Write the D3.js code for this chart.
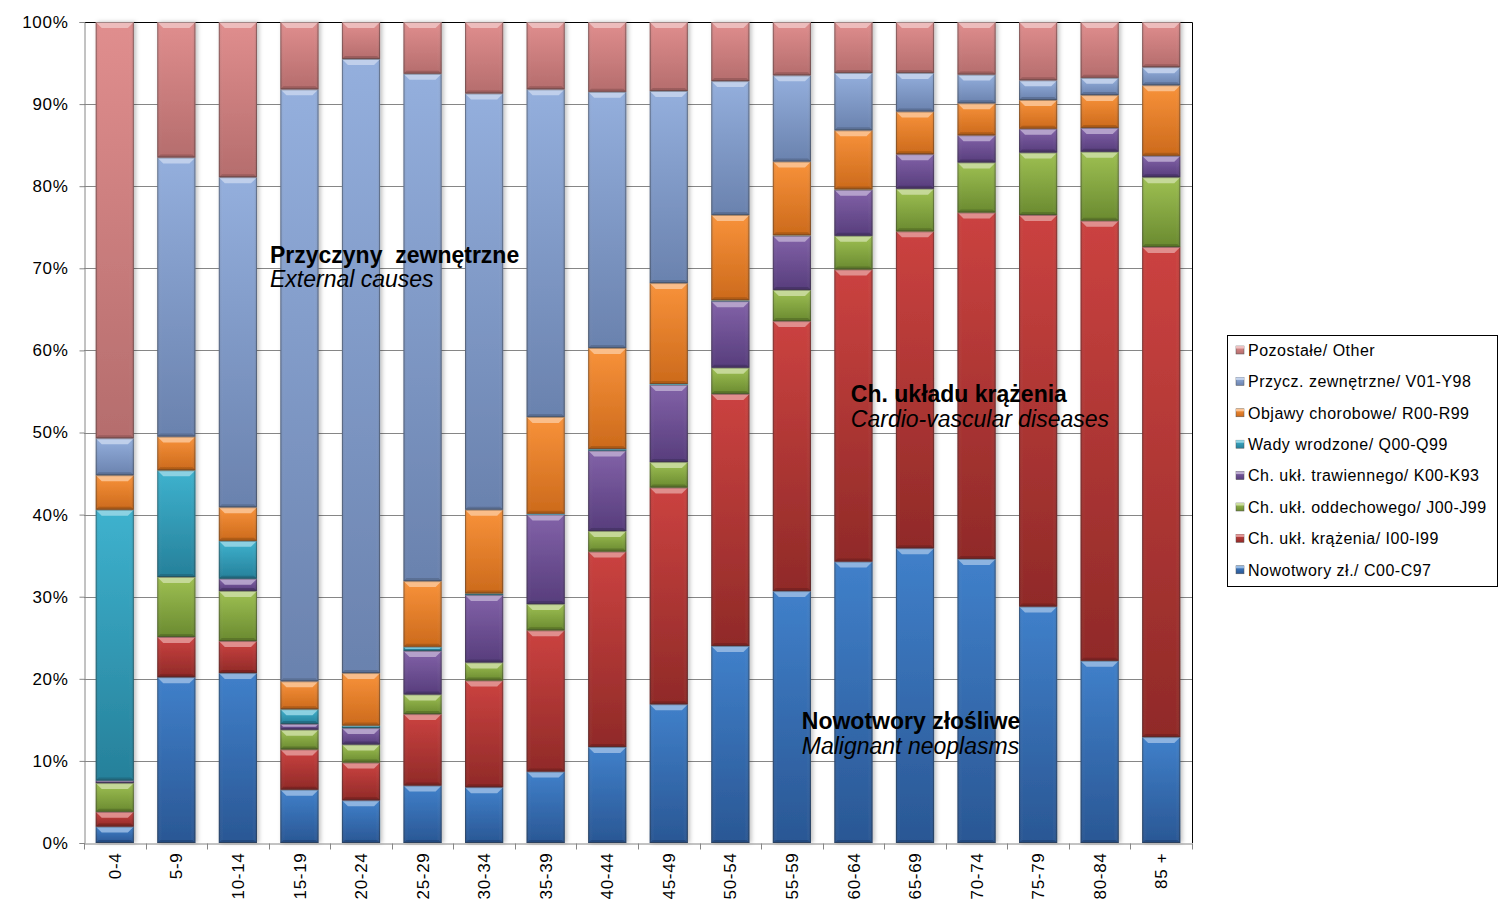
<!DOCTYPE html>
<html><head><meta charset="utf-8">
<script src="https://cdn.jsdelivr.net/npm/d3@7"></script>
<style>
html,body{margin:0;padding:0;background:#fff;}
svg{display:block;font-family:"Liberation Sans",Arial,sans-serif;}
</style></head>
<body>
<svg id="chart" width="1510" height="920"></svg>
<script>
// ---- data ----
const categories = ["0-4","5-9","10-14","15-19","20-24","25-29","30-34","35-39","40-44","45-49","50-54","55-59","60-64","65-69","70-74","75-79","80-84","85 +"];
const seriesNames = [
  "Nowotwory zł./ C00-C97",
  "Ch. ukł. krążenia/ I00-I99",
  "Ch. ukł. oddechowego/ J00-J99",
  "Ch. ukł. trawiennego/ K00-K93",
  "Wady wrodzone/ Q00-Q99",
  "Objawy chorobowe/ R00-R99",
  "Przycz. zewnętrzne/ V01-Y98",
  "Pozostałe/ Other"
];
const nowotwory   = [2.0,20.2,20.7,6.5,5.2,7.0,6.8,8.7,11.7,16.9,24.0,30.7,34.3,35.9,34.6,28.8,22.2,12.9];
const krazenia    = [1.8,4.9,3.9,4.9,4.6,8.7,13.0,17.2,23.8,26.4,30.7,32.9,35.6,38.6,42.2,47.7,53.6,59.7];
const oddechowego = [3.5,7.3,6.1,2.4,2.2,2.4,2.2,3.2,2.5,3.1,3.2,3.8,4.1,5.2,6.1,7.6,8.4,8.5];
const trawiennego = [0.3,0.0,1.5,0.7,2.0,5.3,8.2,10.9,9.8,9.4,8.1,6.6,5.6,4.2,3.3,2.9,2.9,2.6];
const wady        = [33.0,13.0,4.6,1.8,0.3,0.5,0.2,0.1,0.2,0.1,0.1,0.05,0.05,0,0,0,0,0];
const objawy      = [4.2,4.1,4.1,3.4,6.4,8.0,10.2,11.8,12.3,12.3,10.4,9.0,7.2,5.2,3.9,3.5,4.0,8.6];
const zewnetrzne  = [4.5,34.0,40.2,72.1,74.8,61.8,50.7,39.9,31.2,23.4,16.3,10.5,7.0,4.7,3.5,2.4,2.1,2.2];
const pozostale   = [50.7,16.5,18.9,8.2,4.5,6.3,8.7,8.2,8.5,8.4,7.2,6.5,6.2,6.2,6.4,7.1,6.8,5.5];
const seriesValues = [nowotwory,krazenia,oddechowego,trawiennego,wady,objawy,zewnetrzne,pozostale];
const yTicks = [0,0.1,0.2,0.3,0.4,0.5,0.6,0.7,0.8,0.9,1.0];
const annotationBold   = ["Przyczyny  zewnętrzne","Ch. układu krążenia","Nowotwory złośliwe"];
const annotationItalic = ["External causes","Cardio-vascular diseases","Malignant neoplasms"];
const annotationCat    = ["15-19","60-64","55-59"];
const annotationValue  = [0.7065,0.537,0.1388];

// ---- styles ----
const topColors = ["#4080CA","#CB4240","#9EC052","#8262A8","#3EB2CE","#F8923A","#94AFDD","#E08E8E"];
const botColors = ["#2A5794","#902A28","#6A8A30","#573D7C","#26809A","#CC6A1C","#6A82AE","#B56D6D"];
const annotationDx = [-10.4, 16.5, 29];

const svg = d3.select("#chart");
const margin = {left:84, right:318, top:22, bottom:77};
const W = 1510, H = 920;
const x = d3.scaleBand().domain(categories).range([margin.left, W - margin.right]).paddingInner(0.38).paddingOuter(0.19);
const y = d3.scaleLinear().domain([0,1]).range([H - margin.bottom, margin.top]);

const defs = svg.append("defs");
seriesNames.forEach((s,i)=>{
  const g = defs.append("linearGradient").attr("id","g"+i).attr("x1",0).attr("y1",0).attr("x2",0).attr("y2",1);
  g.append("stop").attr("offset","0%").attr("stop-color",topColors[i]);
  g.append("stop").attr("offset","100%").attr("stop-color",botColors[i]);
  const gh = defs.append("linearGradient").attr("id","h"+i).attr("x1",0).attr("y1",0).attr("x2",1).attr("y2",0);
  gh.append("stop").attr("offset","0%").attr("stop-color","#000").attr("stop-opacity",0.10);
  gh.append("stop").attr("offset","12%").attr("stop-color","#fff").attr("stop-opacity",0.0);
  gh.append("stop").attr("offset","88%").attr("stop-color","#fff").attr("stop-opacity",0.0);
  gh.append("stop").attr("offset","100%").attr("stop-color","#000").attr("stop-opacity",0.12);
});
const f = defs.append("filter").attr("id","shadow").attr("x","-20%").attr("y","-5%").attr("width","140%").attr("height","110%");
f.append("feDropShadow").attr("dx",2).attr("dy",0).attr("stdDeviation",2).attr("flood-color","#000").attr("flood-opacity",0.25);

// gridlines
svg.append("g").selectAll("line").data(yTicks.slice(1,-1)).join("line")
  .attr("x1",margin.left).attr("x2",W-margin.right)
  .attr("y1",d=>Math.round(y(d))+0.5).attr("y2",d=>Math.round(y(d))+0.5)
  .attr("stroke","#868686").attr("stroke-width",1);
// plot border top/right black
svg.append("path")
  .attr("d",`M${margin.left},${y(1)+0.5}H${W-margin.right+0.5}V${y(0)}`)
  .attr("fill","none").attr("stroke","#000").attr("stroke-width",1);

// stack
const table = categories.map((c,ci)=>{ const o={cat:c}; seriesNames.forEach((s,si)=>o[s]=seriesValues[si][ci]); return o; });
const stacked = d3.stack().keys(seriesNames).offset(d3.stackOffsetExpand)(table);

const bw = x.bandwidth();
const barG = svg.append("g");
categories.forEach((c,ci)=>{
  const g = barG.append("g").attr("filter","url(#shadow)");
  stacked.forEach((layer,si)=>{
    const d = layer[ci];
    const y0 = y(d[0]), y1 = y(d[1]);
    const h = y0 - y1;
    if (h <= 0.05) return;
    const x0 = x(c);
    g.append("rect").attr("x",x0).attr("y",y1).attr("width",bw).attr("height",h).attr("fill",`url(#g${si})`);
    g.append("rect").attr("x",x0).attr("y",y1).attr("width",bw).attr("height",h).attr("fill",`url(#h${si})`);
    const bv = Math.min(6, h/2);
    const light = d3.interpolateRgb(topColors[si],"#ffffff")(0.45);
    g.append("path").attr("d",`M${x0},${y1}H${x0+bw}L${x0+bw-bv},${y1+bv}H${x0+bv}Z`).attr("fill",light).attr("opacity",0.9);
    const bb = Math.min(3, h/3);
    const dark = d3.interpolateRgb(botColors[si],"#000000")(0.25);
    g.append("path").attr("d",`M${x0},${y0}H${x0+bw}L${x0+bw-bb},${y0-bb}H${x0+bb}Z`).attr("fill",dark).attr("opacity",0.6);
    g.append("rect").attr("x",x0+0.5).attr("y",y1+0.5).attr("width",bw-1).attr("height",Math.max(0,h-1))
      .attr("fill","none").attr("stroke","#333").attr("stroke-opacity",0.4).attr("stroke-width",1);
  });
});

// axes
const yAxis = d3.axisLeft(y).tickValues(yTicks).tickFormat(d3.format(".0%")).tickSize(5).tickPadding(11);
const ya = svg.append("g").attr("transform",`translate(${margin.left+0.5},0)`).call(yAxis);
ya.select(".domain").attr("stroke","#868686");
ya.selectAll(".tick line").attr("stroke","#868686");
ya.selectAll("text").attr("font-size",17).attr("letter-spacing","0.7px").attr("fill","#000").attr("font-family","Liberation Sans, Arial, sans-serif");

const xa = svg.append("g").attr("transform",`translate(0,${y(0)+0.5})`)
  .call(d3.axisBottom(x).tickSize(0).tickSizeOuter(0).tickPadding(0));
xa.select(".domain").attr("stroke","#868686");
xa.selectAll(".tick text")
  .attr("transform","rotate(-90)")
  .attr("text-anchor","end").attr("dx","-9px").attr("dy","0.36em").attr("x",0).attr("y",0)
  .attr("font-size",17).attr("letter-spacing","0.7px").attr("fill","#000").attr("font-family","Liberation Sans, Arial, sans-serif");
// category boundary ticks
const step = x.step();
const bounds = d3.range(categories.length+1).map(i=>margin.left + i*step);
xa.append("g").selectAll("line").data(bounds).join("line")
  .attr("x1",d=>Math.round(d)+0.5).attr("x2",d=>Math.round(d)+0.5).attr("y1",0).attr("y2",6).attr("stroke","#868686");

// annotations
annotationBold.forEach((b,i)=>{
  const tx = x(annotationCat[i]) + annotationDx[i];
  const t = svg.append("text").attr("x",tx).attr("y",y(annotationValue[i])).attr("font-size",23).attr("fill","#000");
  t.append("tspan").attr("x",tx).attr("font-weight","bold").attr("xml:space","preserve").text(b);
  t.append("tspan").attr("x",tx).attr("dy",24.5).attr("font-style","italic").text(annotationItalic[i]);
});

// legend
const lg = svg.append("g").attr("transform","translate(1227,335)");
lg.append("rect").attr("x",0.5).attr("y",0.5).attr("width",270).attr("height",251).attr("fill","#fff").attr("stroke","#000");
const legendOrder = d3.range(seriesNames.length).reverse();
legendOrder.forEach((si,k)=>{
  const ly = 15 + k*31.4;
  lg.append("rect").attr("x",9).attr("y",ly-4).attr("width",8).attr("height",8).attr("fill",`url(#g${si})`)
    .attr("stroke","#555").attr("stroke-width",0.5);
  lg.append("rect").attr("x",9).attr("y",ly-4).attr("width",8).attr("height",2.5).attr("fill",d3.interpolateRgb(topColors[si],"#fff")(0.45));
  lg.append("text").attr("x",21).attr("y",ly).attr("dy","0.36em").attr("font-size",16).attr("letter-spacing","0.5px").attr("fill","#000").text(seriesNames[si]);
});
</script>
</body></html>
